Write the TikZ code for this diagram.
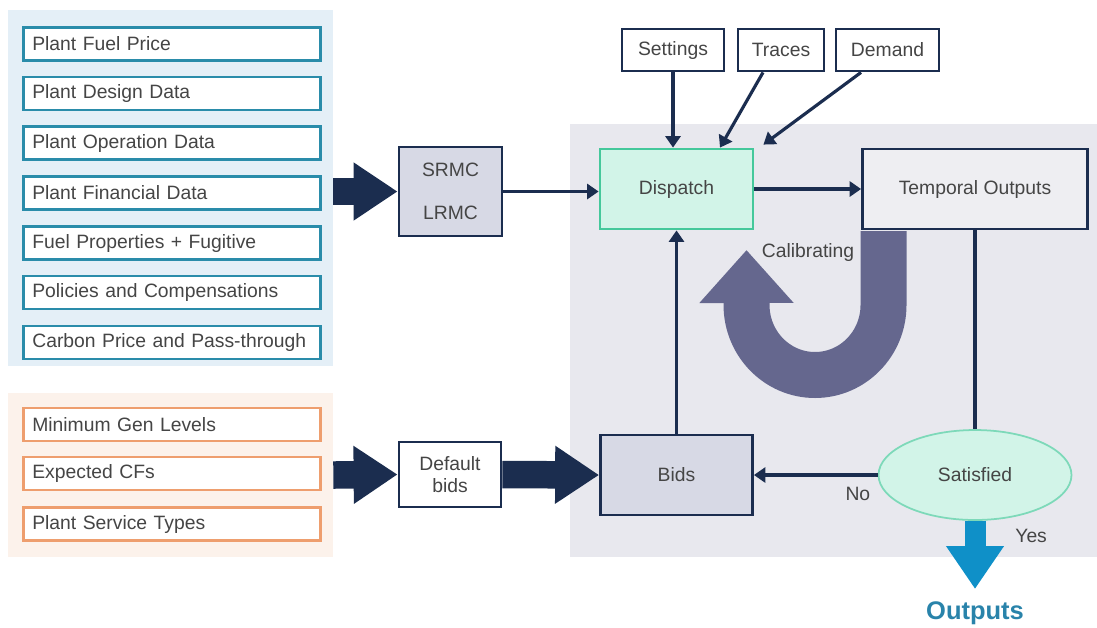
\documentclass[tikz,border=0pt]{standalone}
\usepackage{fontspec}
\setmainfont{Liberation Sans}
\usetikzlibrary{arrows.meta,positioning,shapes.geometric}

\definecolor{bluebg}{HTML}{E4EFF7}
\definecolor{inblue}{HTML}{2A8CAA}
\definecolor{orangebg}{HTML}{FCF2EB}
\definecolor{inorange}{HTML}{EE9E6E}
\definecolor{graybg}{HTML}{E8E8EE}
\definecolor{navy}{HTML}{1B2D4F}
\definecolor{lavender}{HTML}{D7D9E5}
\definecolor{mint}{HTML}{D2F4E8}
\definecolor{mintdark}{HTML}{45C89B}
\definecolor{calib}{HTML}{65678E}
\definecolor{outblue}{HTML}{0F90C8}
\definecolor{outtext}{HTML}{2983AA}
\definecolor{txtgray}{HTML}{454545}

\begin{document}
\begin{tikzpicture}[x=0.02cm, y=-0.02cm, font=\fontsize{11}{13}\selectfont, text=txtgray]
		\tikzset{
			panel/.style={inner sep=0pt},
			inbox/.style={draw=#1, line width=1.5pt, fill=white, anchor=west, minimum width=5.95cm, minimum height=0.66cm, text width=5.59cm, inner xsep=0.18cm, align=left},
			blk/.style={draw=navy, line width=1.6pt, align=center, inner sep=0pt},
			link/.style={draw=navy, line width=1.8pt, -{Triangle[length=6.5pt, width=8.5pt]}},
			bigarrow/.style={draw=navy, line width=0.55cm, -{Triangle[length=0.88cm, width=1.1cm]}}
		};

		\useasboundingbox (0,0) rectangle (1097,627);

		% background panels
		\node[panel, fill=bluebg, minimum width=6.5cm, minimum height=7.12cm] (fuelpanel) at (170.5, 188) {};
		\node[panel, fill=orangebg, minimum width=6.5cm, minimum height=3.28cm] (bidpanel) at (170.5, 475) {};
		\node[panel, fill=graybg, minimum width=10.54cm, minimum height=8.66cm] (modelpanel) at (833.5, 340.5) {};

		% plant data inputs
		\node[inbox=inblue] (fuelprice) at (22, 44) {Plant Fuel Price};
		\node[inbox=inblue] (design) at (22, 93.5) {Plant Design Data};
		\node[inbox=inblue] (operation) at (22, 143) {Plant Operation Data};
		\node[inbox=inblue] (financial) at (22, 193) {Plant Financial Data};
		\node[inbox=inblue] (fugitive) at (22, 243) {Fuel Properties + Fugitive};
		\node[inbox=inblue] (policies) at (22, 292.5) {Policies and Compensations};
		\node[inbox=inblue] (carbon) at (22, 342.5) {Carbon Price and Pass-through};

		% bid inputs
		\node[inbox=inorange] (mingen) at (22, 424.5) {Minimum Gen Levels};
		\node[inbox=inorange] (cfs) at (22, 473.5) {Expected CFs};
		\node[inbox=inorange] (service) at (22, 524) {Plant Service Types};

		% model blocks
		\node[blk, fill=lavender, minimum width=2.06cm, minimum height=1.78cm, font=\fontsize{11}{24.5}\selectfont] (costs) at (450.5, 191.5) {SRMC\\LRMC};
		\node[blk, fill=white, minimum width=2.04cm, minimum height=1.3cm] (defbids) at (450, 474.5) {Default\\bids};
		\node[blk, draw=mintdark, fill=mint, minimum width=3.06cm, minimum height=1.6cm] (dispatch) at (676.5, 189) {Dispatch};
		\node[blk, fill=graybg!75!white, minimum width=4.5cm, minimum height=1.6cm] (temporal) at (975, 189) {Temporal Outputs};
		\node[blk, fill=lavender, minimum width=3.04cm, minimum height=1.6cm] (bids) at (676.5, 475) {Bids};
		\node[ellipse, draw=mintdark!70, line width=1pt, fill=mint, minimum width=3.86cm, minimum height=1.8cm, inner sep=0pt] (satisfied) at (975, 475) {Satisfied};

		\node[blk, fill=white, minimum width=2.04cm, minimum height=0.84cm] (settings) at (673, 50) {Settings};
		\node[blk, fill=white, minimum width=1.72cm, minimum height=0.84cm] (traces) at (781, 50) {Traces};
		\node[blk, fill=white, minimum width=2.06cm, minimum height=0.84cm] (demand) at (887.5, 50) {Demand};

		% calibrating loop
		\coordinate (calibstart) at (883.5, 231);
		\draw[calib, line width=0.92cm, -{Triangle[length=1.06cm, width=1.82cm]}] (calibstart) -- ++(0, 74) arc[start angle=0, end angle=-180, x radius=1.37cm, y radius=1.4cm] -- (746.5, 250);
		\node (calibrating) at (808, 252) {Calibrating};

		% connectors
		\draw[bigarrow] (fuelpanel.east |- costs.west) -- (costs.west);
		\draw[bigarrow] (bidpanel.east) -- (defbids.west);
		\draw[bigarrow] (defbids.east) -- (bids.west);

		\draw[link] (costs.east) -- (costs.east -| dispatch.west);
		\draw[link] (settings.south) -- (settings.south |- dispatch.north);
		\draw[link] ([xshift=-0.36cm]traces.south) -- ([xshift=0.87cm]dispatch.north);
		\draw[link] ([xshift=-0.53cm]demand.south) -- ([xshift=0.18cm, yshift=0.06cm]dispatch.north east);
		\draw[link] (dispatch) -- (temporal);
		\draw[link] (bids) -- (dispatch);
		\draw[navy, line width=1.8pt] (temporal.south) -- (satisfied.north);
		\draw[link] (satisfied.west) -- node[pos=0, anchor=north east, yshift=-0.1cm] (no) {No} (bids.east);

		% final outputs
		\coordinate (outtip) at (975, 589);
		\draw[outblue, line width=0.42cm, -{Triangle[length=0.86cm, width=1.1cm]}] (satisfied.south) -- node[pos=0.22, anchor=west, xshift=0.48cm, text=txtgray] (yes) {Yes} (outtip);
		\node[text=outtext, font=\fontsize{14.5}{16}\selectfont\bfseries] (outputs) at (975, 613) {Outputs};
	\end{tikzpicture}
\end{document}
